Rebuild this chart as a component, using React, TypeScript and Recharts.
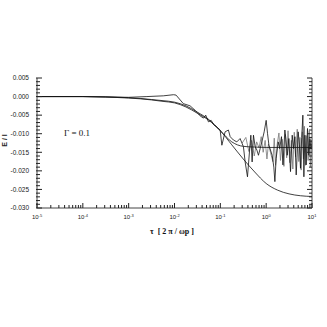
import React from "react";
import { LineChart, Line, XAxis, YAxis } from "recharts";

// smooth curves, sampled on a log grid of tau
const tauSmooth = [1e-5, 1e-4, 3.16e-4, 1e-3, 1.78e-3, 3.16e-3, 5.62e-3, 1e-2, 1.78e-2, 3.16e-2, 5.62e-2, 0.1, 0.178, 0.316, 0.562, 1, 1.78, 3.16, 5.62, 10];
const decayFull = [0, 0, -0.0001, -0.0004, -0.0006, -0.0009, -0.0013, -0.0017, -0.0028, -0.0045, -0.0064, -0.0092, -0.013, -0.0168, -0.0203, -0.0234, -0.0252, -0.0262, -0.0267, -0.0269];
const decayPlateau = [0, 0, -0.0001, -0.0003, -0.0005, -0.0008, -0.0011, -0.0015, -0.0025, -0.0042, -0.0062, -0.0092, -0.0122, -0.0134, -0.0136, -0.0137, -0.0137, -0.0137, -0.0137, -0.0137];

// simulated curve: bump near 1e-2, then noisy
const tauSim = [
  1e-5, 1e-4, 1e-3, 2.5e-3, 5.7e-3, 9.5e-3, 0.0108, 0.0156, 0.0219, 0.0282, 0.0362, 0.0428, 0.048, 0.055, 0.063, 0.072, 0.0839,
  0.0991, 0.108, 0.127, 0.15, 0.164, 0.193, 0.229, 0.27, 0.319, 0.348, 0.391, 0.432, 0.463, 0.494, 0.528, 0.575, 0.627, 0.679,
  0.74, 0.805, 0.904, 1.0, 1.07, 1.15, 1.35, 1.47, 1.55, 1.65, 1.83, 1.97, 2.16, 2.32, 2.56, 2.7, 2.88, 3.13, 3.4, 3.7, 3.95,
  4.24, 4.52, 5.0, 5.31, 5.61, 5.96, 6.32, 6.65, 7.0, 7.46, 7.98, 8.55, 8.99, 9.46, 10,
];
const valSim = [
  0, 0, -0.0002, 0, 0.0002, 0.0005, 0.0004, -0.0019, -0.0025, -0.0037, -0.0052, -0.0058, -0.005, -0.0068, -0.0064, -0.0076, -0.0082,
  -0.009, -0.0131, -0.0095, -0.009, -0.0108, -0.0117, -0.0122, -0.0113, -0.0135, -0.0176, -0.0216, -0.0149, -0.0104, -0.0176, -0.0104, -0.0135, -0.0144, -0.0158,
  -0.014, -0.0122, -0.0095, -0.0064, -0.0099, -0.0131, -0.0158, -0.019, -0.0229, -0.0167, -0.0122, -0.014, -0.0108, -0.0184, -0.009, -0.0115, -0.0158, -0.0113, -0.0202, -0.0104, -0.014,
  -0.0108, -0.0211, -0.0095, -0.013, -0.0193, -0.011, -0.005, -0.0216, -0.0104, -0.0184, -0.0086, -0.0158, -0.0113, -0.014, -0.0131,
];

// second (grey) noisy run, only visible in the late-time region
const tauSim2 = [
  0.3, 0.36, 0.42, 0.48, 0.55, 0.62, 0.7, 0.78, 0.86, 0.95, 1.04, 1.12, 1.24, 1.4, 1.5, 1.6, 1.74, 1.9, 2.05, 2.24, 2.44, 2.63,
  2.8, 3.0, 3.27, 3.55, 3.82, 4.1, 4.38, 4.76, 5.15, 5.45, 5.8, 6.15, 6.5, 6.82, 7.22, 7.7, 8.25, 8.75, 9.2, 9.7, 10,
];
const valSim2 = [
  -0.0125, -0.011, -0.0148, -0.0118, -0.016, -0.0122, -0.0138, -0.0108, -0.015, -0.0118, -0.0168, -0.0128, -0.015, -0.0175, -0.0112, -0.0185, -0.0128, -0.0098, -0.0172, -0.0115, -0.0188, -0.0102,
  -0.0165, -0.0092, -0.0178, -0.0118, -0.0195, -0.0096, -0.0162, -0.0088, -0.0175, -0.011, -0.0198, -0.0095, -0.0168, -0.008, -0.0185, -0.0105, -0.0172, -0.0092, -0.019, -0.0118, -0.014,
];

// axes
const xDecades = [1e-5, 1e-4, 1e-3, 1e-2, 1e-1, 1, 10];
const xExponents = ["-5", "-4", "-3", "-2", "-1", "0", "1"];
const yLabels = [0.005, 0, -0.005, -0.01, -0.015, -0.02, -0.025, -0.03];

const xTicks: number[] = [];
xDecades.forEach((d, i) => {
  xTicks.push(d);
  if (i < xDecades.length - 1) for (let m = 2; m <= 9; m++) xTicks.push(d * m);
});
const yTicks = Array.from({ length: 36 }, (_, i) => Number((0.005 - i * 0.001).toFixed(3)));

const pts = (ts: number[], vs: number[]) => ts.map((t, i) => ({ t, v: vs[i] }));
const dataFull = pts(tauSmooth, decayFull);
const dataPlateau = pts(tauSmooth, decayPlateau);
const dataSim = pts(tauSim, valSim);
const dataSim2 = pts(tauSim2, valSim2);

const AXIS = "#444";
const TICK = "#222";
const INK = "#111";
const tickFont = "'Liberation Sans', Arial, sans-serif";

const isMajorY = (v: number) => yLabels.some((l) => Math.abs(l - v) < 1e-9);

function LeftTick(props: any) {
  const { x, y, payload } = props;
  const major = isMajorY(payload.value);
  return (
    <g>
      <path d={`M${x - 1},${y}H${x + (major ? 5 : 3)}`} stroke={TICK} strokeWidth={1} fill="none" />
      {major && (
        <text x={x - 8} y={y} dy="0.35em" textAnchor="end" fontSize={6.5} fontFamily={tickFont} fill="#222">
          {payload.value.toFixed(3)}
        </text>
      )}
    </g>
  );
}

function RightTick(props: any) {
  const { x, y, payload } = props;
  const major = isMajorY(payload.value);
  return <path d={`M${x},${y}H${x - (major ? 5 : 3)}`} stroke={TICK} strokeWidth={1} fill="none" />;
}

function BottomTick(props: any) {
  const { x, y, payload } = props;
  const idx = xDecades.findIndex((d) => Math.abs(d - payload.value) / d < 1e-6);
  const major = idx >= 0;
  return (
    <g>
      <path d={`M${x},${y}V${y - (major ? 5 : 3)}`} stroke={TICK} strokeWidth={1} fill="none" />
      {major && (
        <text x={x} y={y + 11} textAnchor="middle" fontSize={6} fontFamily={tickFont} fill="#222">
          <tspan>10</tspan>
          <tspan dy={-2.5} fontSize={4}>{xExponents[idx]}</tspan>
        </text>
      )}
    </g>
  );
}

export default function App() {
  return (
    <div style={{ position: "absolute", left: 0, top: 0, width: 327, height: 327, background: "#fff" }}>
      <LineChart width={327} height={327} margin={{ top: 78, right: 14, bottom: 89, left: 0 }}>
        <XAxis
          dataKey="t"
          type="number"
          scale="log"
          domain={[1e-5, 10]}
          allowDataOverflow
          ticks={xTicks}
          interval={0}
          tick={<BottomTick />}
          tickLine={false}
          tickSize={0}
          tickMargin={0}
          height={30}
          axisLine={{ stroke: AXIS, strokeWidth: 1 }}
        />
        <XAxis xAxisId="top" orientation="top" type="number" scale="log" domain={[1e-5, 10]} allowDataOverflow tick={false} tickLine={false} height={0} axisLine={{ stroke: AXIS, strokeWidth: 1 }} />
        <YAxis
          type="number"
          domain={[-0.03, 0.005]}
          allowDataOverflow
          ticks={yTicks}
          interval={0}
          tick={<LeftTick />}
          tickLine={false}
          tickSize={0}
          tickMargin={0}
          width={37}
          axisLine={{ stroke: AXIS, strokeWidth: 1 }}
        />
        <YAxis
          yAxisId="right"
          orientation="right"
          type="number"
          domain={[-0.03, 0.005]}
          allowDataOverflow
          ticks={yTicks}
          interval={0}
          tick={<RightTick />}
          tickLine={false}
          tickSize={0}
          tickMargin={0}
          width={1}
          axisLine={{ stroke: AXIS, strokeWidth: 1 }}
        />
        <Line data={dataSim2} dataKey="v" type="linear" stroke="#777" strokeWidth={0.8} dot={false} isAnimationActive={false} />
        <Line data={dataFull} dataKey="v" type="monotone" stroke={INK} strokeWidth={0.8} dot={false} isAnimationActive={false} />
        <Line data={dataPlateau} yAxisId="right" dataKey="v" type="monotone" stroke={INK} strokeWidth={0.8} dot={false} isAnimationActive={false} />
        <Line data={dataSim} dataKey="v" type="linear" stroke={INK} strokeWidth={0.8} dot={false} isAnimationActive={false} />
      </LineChart>
      <div style={{ position: "absolute", left: 64, top: 128, fontFamily: "'Liberation Serif', serif", fontSize: 9, color: "#111", whiteSpace: "nowrap" }}>
        Γ = 0.1
      </div>
      <div style={{ position: "absolute", left: 150, top: 227, fontFamily: "'Liberation Serif', serif", fontSize: 8, fontWeight: "bold", color: "#111", whiteSpace: "nowrap" }}>
        τ &nbsp;[ 2 π / ω<span>p</span> ]
      </div>
      <div style={{ position: "absolute", left: -8, top: 137, width: 24, transform: "rotate(-90deg)", fontFamily: "'Liberation Sans', sans-serif", fontSize: 7, fontWeight: "bold", color: "#222", whiteSpace: "nowrap", textAlign: "center" }}>
        E / I
      </div>
    </div>
  );
}
